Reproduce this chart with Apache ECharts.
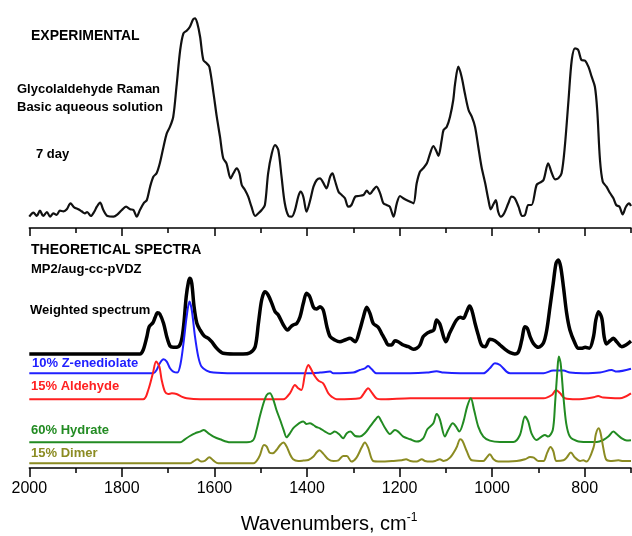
<!DOCTYPE html>
<html>
<head>
<meta charset="utf-8">
<script src="https://cdn.jsdelivr.net/npm/echarts@6/dist/echarts.min.js"></script>
<style>
html,body{margin:0;padding:0;background:#fff;}
#chart{width:632px;height:536px;}
</style>
</head>
<body>
<div id="chart"></div>
<script>
// x: wavenumber (cm-1), y: intensity (arbitrary units)
const majorTicks = [2000, 1800, 1600, 1400, 1200, 1000, 800];
const minorTicks = [1900, 1700, 1500, 1300, 1100, 900, 700];

const experimental = [[2000,11.3],[1991,15.3],[1984,12],[1977,17.3],[1970,12],[1962,16],[1955,11.3],[1948,14.7],[1941,13],[1934,17.3],[1926,16.7],[1919,18.7],[1911,24.7],[1903,20.7],[1894,18.7],[1887,16.7],[1880,14.7],[1875,16],[1867,12],[1860,16],[1854,21.3],[1847,25.3],[1840,18],[1831,12],[1818,11.3],[1810,13.3],[1800,18],[1791,21.3],[1782,18.7],[1775,18],[1768,11.3],[1761,18],[1752,25.3],[1746,28],[1739,41.3],[1732,51.3],[1725,54.7],[1718,64.7],[1710,81.3],[1703,94.7],[1696,101.3],[1689,111.3],[1682,141.3],[1674,178],[1667,194.7],[1660,197.3],[1653,201.3],[1646,208.7],[1642,209.7],[1637,204.7],[1631,191.3],[1624,168],[1617,164.7],[1611,161.3],[1602,134.7],[1595,111.3],[1588,91.3],[1581,69.7],[1574,64.7],[1565,49.7],[1559,54.7],[1552,59.7],[1546,54.7],[1541,43],[1534,38],[1527,31.3],[1520,21.3],[1512,12],[1505,14.7],[1498,18],[1491,23],[1484,54.7],[1476,74.7],[1469,83],[1462,78],[1455,51.3],[1448,24.7],[1440,12],[1433,11.3],[1426,18],[1419,31.3],[1414,36.3],[1408,31.3],[1401,16.3],[1393,28],[1386,41.3],[1379,48],[1372,49.7],[1365,45.3],[1358,39.7],[1350,51.3],[1345,54.7],[1340,48],[1332,36.3],[1325,33],[1318,29.7],[1311,21.3],[1304,23],[1296,31.3],[1289,32],[1278,33],[1271,37.3],[1264,34],[1257,38],[1250,41.3],[1242,34.7],[1235,24.7],[1228,23],[1221,21.3],[1213,11.3],[1206,24.7],[1199,32],[1192,29.7],[1185,28],[1177,26.3],[1170,24.7],[1163,44.7],[1156,56.3],[1149,59.7],[1141,64.7],[1134,74.7],[1127,82],[1120,76.3],[1116,72],[1109,88],[1105,98],[1098,101.3],[1091,111.3],[1084,128],[1080,144.7],[1073,161.3],[1066,151.3],[1059,134.7],[1051,118],[1044,111.3],[1037,101.3],[1030,81.3],[1023,61.3],[1015,44.7],[1008,28],[1003,18.7],[997,24],[992,28],[987,16.3],[981,11.3],[974,14.7],[965,24.7],[958,31.3],[951,29.7],[943,21.3],[935,12],[929,13],[922,23],[915,23],[904,43],[897,45.3],[889,48],[879,64.7],[871,54.7],[864,48.7],[857,49.7],[850,54.7],[843,81.3],[835,128],[828,168],[821,179.7],[814,178],[807,168],[799,167.3],[792,161.3],[785,151.3],[778,141.3],[773,118],[767,68],[761,46.3],[753,41.3],[745,34.7],[738,29.7],[732,23],[725,21.3],[718,13.7],[711,21.3],[704,24.7],[700,22]];

const weighted = [[2000,0],[1761,0],[1754,4],[1746,17.3],[1741,27.3],[1733,31.3],[1728,36.7],[1723,41.3],[1718,40],[1710,30.7],[1703,17.3],[1696,8],[1689,6.7],[1678,7.3],[1671,14],[1666,30.7],[1661,57.3],[1656,72.3],[1653,75.7],[1649,70.7],[1644,47.3],[1638,30.7],[1631,24],[1622,18],[1613,15.7],[1606,12.3],[1595,5.7],[1581,0.7],[1559,0],[1538,0],[1523,1.3],[1512,7.3],[1505,30.7],[1498,54],[1491,62.3],[1484,59],[1476,50.7],[1469,42.3],[1462,39],[1451,29],[1442,24],[1435,27.3],[1430,29],[1422,30.7],[1415,37.3],[1408,50.7],[1401,60.7],[1394,57.3],[1386,46.7],[1379,45],[1372,47.3],[1365,44],[1357,27.3],[1350,17.3],[1340,14],[1329,12.3],[1318,14],[1307,15.7],[1296,12.3],[1286,24],[1278,37.3],[1271,46.7],[1264,40.7],[1257,30.7],[1246,26.7],[1239,20.7],[1231,14],[1224,9],[1217,9],[1210,13.3],[1203,12.3],[1192,9],[1181,7.3],[1170,4.7],[1163,5.7],[1156,9],[1149,17.3],[1141,20.7],[1134,22.3],[1126,24],[1120,34],[1113,30],[1105,17.3],[1100,12.3],[1092,20.7],[1085,27.3],[1077,34],[1069,36.7],[1062,35.7],[1055,42.3],[1049,48],[1044,44],[1037,30.7],[1030,19],[1023,9],[1015,7.3],[1005,14.7],[994,13.3],[983,9],[972,4.7],[961,1.3],[951,0],[943,2.3],[936,14],[929,27.3],[924,25.7],[918,17.3],[911,10.7],[900,6.7],[889,11.3],[882,24],[875,47.3],[868,70.7],[862,90.7],[857,94],[852,87.3],[846,67.3],[839,40.7],[832,24],[821,10.7],[814,5.7],[807,5.7],[799,6.7],[790,5.7],[781,17.3],[776,34],[770,42.3],[763,35.7],[758,17.3],[753,10],[745,13.3],[738,15.7],[731,12.3],[720,7.3],[711,9],[700,13]];

const enediolate = [[2000,0],[1732,0],[1725,3.3],[1718,10],[1710,14],[1703,11.7],[1696,5],[1689,1.7],[1680,0.7],[1673,10],[1666,33.3],[1660,56.7],[1654,71.7],[1649,63.3],[1642,36.7],[1635,16.7],[1628,6.7],[1617,2.7],[1602,0.7],[1559,0],[1400,0],[1372,0.7],[1350,1.7],[1343,0],[1300,0.7],[1286,3.3],[1275,5],[1268,7.3],[1260,4],[1250,0],[1177,0],[1141,0.7],[1120,2],[1105,0.7],[1069,0],[1019,0],[1005,5],[994,10],[983,8.3],[969,1.7],[961,0],[889,0],[868,2.7],[846,2.7],[832,0.7],[803,0],[767,0.7],[742,3.3],[731,1.7],[700,4.5]];

const aldehyde = [[2000,0],[1754,0],[1743,9.3],[1733,26],[1726,37.7],[1719,32.7],[1714,19.3],[1707,7.7],[1700,5.3],[1692,6],[1682,5.3],[1671,2.7],[1660,1],[1631,0],[1451,0],[1437,6],[1426,14.3],[1419,11],[1412,9.3],[1404,26],[1397,34.3],[1390,29],[1383,23],[1375,18.5],[1365,16],[1354,6],[1347,2.7],[1336,0],[1286,1],[1277,6],[1268,11],[1260,6.7],[1250,1],[1235,0],[1177,1],[889,1],[871,4.3],[862,9.3],[853,6],[843,1],[817,0],[781,2],[771,3.3],[760,1.7],[724,1],[700,6]];

const hydrate = [[2000,0],[1674,0],[1664,3],[1653,6.3],[1642,9],[1631,10.7],[1623,12.3],[1613,9],[1602,5.7],[1588,3],[1566,0],[1530,0],[1516,2.3],[1509,12.3],[1502,25.7],[1494,39],[1487,47.3],[1480,49],[1473,43],[1466,32.3],[1458,22.3],[1451,13],[1444,5],[1437,9],[1430,14],[1422,17.3],[1415,19.7],[1408,20.7],[1401,18.3],[1394,19],[1386,17.3],[1380,15.3],[1372,14],[1361,10.7],[1350,8.3],[1340,10.7],[1329,7.3],[1322,4],[1314,9],[1306,10.7],[1296,6.3],[1286,5.7],[1275,9],[1264,15.7],[1253,22.3],[1246,25.7],[1239,20.7],[1231,14],[1221,8.3],[1210,12.3],[1203,10.7],[1192,5.7],[1177,3],[1163,0.7],[1149,4],[1140,13],[1127,19],[1120,28.3],[1113,23],[1102,5.7],[1095,12.3],[1085,19],[1078,15.7],[1071,10.7],[1062,20.7],[1054,35.7],[1046,44],[1039,32.3],[1030,15.7],[1019,5.7],[1005,1.7],[983,0.3],[954,0.3],[940,7.3],[929,25.7],[922,20.7],[915,9],[904,2.3],[893,5.7],[886,7.3],[879,5.7],[869,12.3],[864,39],[859,72.3],[856,85.7],[852,79],[846,45.7],[840,19],[832,5.7],[817,1.3],[796,0.3],[774,0.3],[760,2.3],[749,5.7],[738,10.7],[731,8.3],[720,4],[709,1.7],[700,2]];

const dimer = [[2000,0],[1653,0],[1646,1.7],[1637,4],[1628,1.7],[1620,2.7],[1611,6],[1602,2.7],[1592,0],[1516,0],[1503,6.7],[1493,18.3],[1487,16.7],[1481,10.7],[1474,10],[1466,13.3],[1458,18.3],[1451,20.7],[1444,16.7],[1437,9.3],[1430,4],[1419,2.3],[1408,2.7],[1397,3.3],[1386,6.7],[1379,11],[1373,13],[1365,9.7],[1354,4],[1343,2.3],[1332,3],[1322,7.3],[1314,7.3],[1304,1.7],[1293,5.7],[1282,15.7],[1275,20.7],[1268,15.7],[1257,2.3],[1242,1.7],[1213,2.3],[1195,3],[1186,4],[1177,2.3],[1163,1.7],[1152,4],[1145,2.3],[1134,1.7],[1123,2.3],[1113,4],[1105,2.3],[1091,5.7],[1077,15.7],[1069,24],[1064,22.3],[1055,12.3],[1044,3],[1019,2.3],[1012,5.7],[1005,9],[997,4],[987,1.7],[947,2.3],[929,4],[918,6.3],[910,5.7],[900,2.3],[889,2.3],[881,10.7],[874,16.3],[868,12.3],[861,2.3],[846,3],[839,5.7],[830,10.7],[821,5.7],[810,2.3],[803,3],[796,1.7],[781,15.7],[776,29],[770,35],[766,30.7],[760,15.7],[754,4],[745,2.3],[727,3],[717,2.3],[700,2.3]];

// vertical stacking offsets of the theoretical spectra
const theoNames = ['Weighted spectrum', '10% Z-enediolate', '15% Aldehyde', '60% Hydrate', '15% Dimer'];
const theoData = [weighted, enediolate, aldehyde, hydrate, dimer];
const theoOffsets = [114, 94.7, 68.7, 25.7, 4.7];
const theoColors = ['#000000', '#2020ff', '#ff2020', '#228b22', '#8b8b22'];
const theoWidths = [3.5, 2, 2, 2, 2];

const FONT = '"Liberation Sans", Arial, sans-serif';
const chart = echarts.init(document.getElementById('chart'), null, {renderer: 'canvas'});

function xAx(grid, ticks, len, showLine, showLabels) {
  return {
    gridIndex: grid, type: 'value', min: 700, max: 2000, inverse: true, position: 'bottom',
    axisLine: {show: showLine, onZero: false, lineStyle: {color: '#000', width: 1.5}},
    axisTick: {show: true, customValues: ticks, length: len, inside: false, lineStyle: {color: '#000', width: 1.5}},
    axisLabel: showLabels ? {show: true, customValues: ticks, formatter: v => String(v), fontSize: 16, color: '#000', margin: 13, fontFamily: FONT} : {show: false},
    splitLine: {show: false}
  };
}

const series = [{
  type: 'line', xAxisIndex: 0, yAxisIndex: 0, data: experimental, smooth: 0.3,
  showSymbol: false, lineStyle: {color: '#111', width: 2.2}, z: 2
}];
theoData.forEach((d, i) => {
  series.push({
    type: 'line', name: theoNames[i], xAxisIndex: 2, yAxisIndex: 1, smooth: 0.3, showSymbol: false,
    data: d.map(p => [p[0], p[1] + theoOffsets[i]]),
    lineStyle: {color: theoColors[i], width: theoWidths[i]}, z: 2 + i
  });
});

function label(text, x, y, color, size) {
  return {type: 'text', left: x, top: y, style: {text: text, fill: color, font: 'bold ' + size + 'px ' + FONT}};
}

chart.setOption({
  animation: false,
  backgroundColor: '#fff',
  grid: [
    {left: 29.3, right: 1, top: 0, height: 228},
    {left: 29.3, right: 1, top: 236, height: 232}
  ],
  xAxis: [
    xAx(0, majorTicks, 8, true, false),
    xAx(0, minorTicks, 5, false, false),
    xAx(1, majorTicks, 9, true, true),
    xAx(1, minorTicks, 5, false, false)
  ],
  yAxis: [
    {gridIndex: 0, type: 'value', min: 0, max: 228, show: false},
    {gridIndex: 1, type: 'value', min: 0, max: 232, show: false}
  ],
  series: series,
  graphic: [
    label('EXPERIMENTAL', 31, 29, '#000', 14),
    label('Glycolaldehyde Raman', 17, 83, '#000', 13),
    label('Basic aqueous solution', 17, 101, '#000', 13),
    label('7 day', 36, 148, '#000', 13),
    label('THEORETICAL SPECTRA', 31, 243, '#000', 14),
    label('MP2/aug-cc-pVDZ', 31, 263, '#000', 13),
    label(theoNames[0], 30, 304, theoColors[0], 13),
    label(theoNames[1], 32, 357, theoColors[1], 13),
    label(theoNames[2], 31, 380, theoColors[2], 13),
    label(theoNames[3], 31, 424, theoColors[3], 13),
    label(theoNames[4], 31, 447, theoColors[4], 13),
    {
      type: 'text', x: 329, y: 512,
      style: {
        text: '{a|Wavenumbers, cm}{b|-1}',
        align: 'center',
        rich: {
          a: {fontSize: 20, fontFamily: FONT, fill: '#000', lineHeight: 24},
          b: {fontSize: 12, fontFamily: FONT, fill: '#000', lineHeight: 12, verticalAlign: 'top'}
        }
      }
    }
  ]
});
</script>
</body>
</html>
